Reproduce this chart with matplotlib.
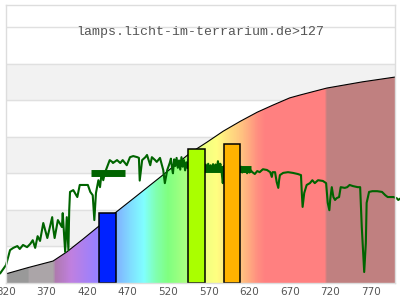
import numpy as np
import matplotlib
matplotlib.use("Agg")
import matplotlib.pyplot as plt
from matplotlib.colors import LinearSegmentedColormap

# sensitivity curve (black line, filled with spectrum colours below)
curve_nm = [320, 347, 378, 395, 415, 436, 456, 480, 514, 547, 568, 588,
            609, 630, 649, 670, 683, 716, 760, 800]
curve_val = [0.25, 0.42, 0.60, 0.85, 1.20, 1.58, 1.94, 2.36, 2.96, 3.55, 3.85,
             4.15, 4.42, 4.67, 4.86, 5.06, 5.14, 5.33, 5.50, 5.63]

# measured lamp spectrum (dark green line)
spec_nm = [313, 320, 325, 329, 334, 337, 341, 346, 350, 353, 356, 359, 362,
           366, 371, 377, 378, 380, 384, 389, 390, 393, 395, 397, 398, 399,
           403, 408, 411, 417, 421, 424, 427, 429, 431, 434, 436, 438, 440,
           442, 448, 451, 452, 457, 461, 464, 469, 473, 477, 482, 484, 485,
           488, 492, 494, 498, 500, 504, 506, 510, 514, 516, 519,
           522, 523.5, 525, 526, 527.5, 529, 530.5, 532, 533.5, 535, 536.5,
           538, 539.5, 541, 542.5, 544, 545.5, 547, 548.5, 550, 551.5, 553,
           554.5, 556, 557.5, 559, 560.5, 562, 563.5, 565, 566.5, 568, 569.5,
           571, 572.5, 574, 575.5, 577, 578.5, 580, 581.5, 583, 584.5, 586,
           587.5, 589, 590.5, 592, 593.5, 595, 596.5, 598, 599.5, 601, 602.5,
           604, 605.5, 607, 608.5, 610, 611.5, 613, 614.5, 616, 617.5, 619,
           620.5, 622,
           624, 627, 630, 633, 637, 642, 646, 648, 649, 652, 654, 656, 657,
           658, 662, 668, 674, 680, 684, 685, 686, 688, 691, 695, 698, 701,
           705, 711, 715, 717, 719, 720, 722, 724, 726, 728, 731, 733, 738,
           741, 744, 748, 754, 757, 759, 761, 762, 764, 765, 768, 772, 778,
           784, 788, 791, 798, 802, 804, 806]
spec_val = [0.27, 0.49, 0.90, 0.96, 1.01, 0.93, 1.04, 0.98, 1.07, 1.17, 0.96,
            1.28, 1.15, 1.64, 1.23, 1.80, 1.53, 1.23, 1.72, 1.53, 1.91, 0.85,
            1.80, 0.90, 1.99, 2.49, 2.54, 2.35, 2.68, 2.68, 2.68, 2.49, 2.40,
            1.72, 2.46, 2.81, 2.62, 3.01, 2.81, 3.01, 3.36, 3.31, 3.28, 3.36,
            3.28, 3.36, 3.22, 3.44, 3.47, 3.44, 3.42, 2.80, 3.36, 3.44, 3.50,
            3.22, 3.44, 3.36, 3.31, 3.42, 3.09, 2.73, 3.09,
            3.28, 3.40, 3.12, 3.00, 3.38, 3.20, 3.42, 3.15, 3.35, 3.10, 3.44,
            3.18, 3.36, 3.08, 3.30, 3.14, 3.38, 3.12, 3.32, 3.10, 3.30, 3.15,
            3.34, 3.12, 3.28, 3.10, 3.30, 3.14, 3.26, 3.08, 3.24, 3.06, 3.26,
            3.10, 3.22, 3.05, 3.25, 3.10, 3.24, 3.08, 3.33, 3.12, 3.26, 3.05,
            2.73, 3.20, 3.06, 3.22, 3.08, 3.20, 3.04, 3.18, 3.06, 3.20, 3.04,
            3.18, 3.02, 3.16, 3.05, 3.18, 3.02, 3.16, 3.04, 3.14, 3.00, 3.12,
            3.02, 3.08,
            3.03, 2.98, 3.06, 3.03, 3.11, 3.09, 3.03, 2.90, 3.03, 3.03, 2.76,
            2.60, 2.81, 2.95, 3.01, 3.03, 3.01, 2.98, 2.95, 2.46, 2.08, 2.46,
            2.68, 2.73, 2.81, 2.73, 2.81, 2.79, 2.73, 2.19, 1.99, 2.27, 2.62,
            2.35, 2.27, 2.32, 2.35, 2.62, 2.60, 2.62, 2.68, 2.65, 2.62, 2.62,
            1.53, 0.71, 0.30, 1.09, 2.19, 2.49, 2.51, 2.51, 2.49, 2.40, 2.35,
            2.35, 2.32, 2.27, 2.30]

# averaged level markers (thick dark green bars)
mark_start = [425, 550]
mark_end = [467, 622]
mark_val = [3.02, 3.11]

# coloured bars
bar_left = [435, 545, 589]
bar_width = [21, 20, 20]
bar_height = [1.92, 3.65, 3.79]
bar_colors = ["#0022ff", "#aaff00", "#ffb300"]

# spectrum colours along the wavelength axis
grad_nm = [320, 347, 347.5, 378, 381, 400, 430, 456, 475, 490, 505, 520,
           545, 565, 580, 595, 612, 630, 640, 714, 716, 800]
grad_col = ["#999999", "#999999", "#aba5a8", "#aba5a8", "#b07ab0", "#c080e0",
            "#9a80ff", "#80b0ff", "#80e0ff", "#80ffff", "#80ffb0", "#80ff80",
            "#b0ff80", "#f0ff80", "#ffff80", "#ffe080", "#ffc080", "#ff9080",
            "#ff8080", "#ff8080", "#c08080", "#c08080"]

xticks = [320, 370, 420, 470, 520, 570, 620, 670, 720, 770]

fig = plt.figure(figsize=(4, 3), dpi=100)
ax = fig.add_axes([6 / 400, 17 / 300, 389 / 400, 278 / 300])
ax.set_xlim(320, 800)
ax.set_ylim(0, 7.6)

# alternating background bands and grid
for lo in [1, 3, 5]:
    ax.axhspan(lo, lo + 1, color="#f2f2f2", zorder=0)
for g in range(1, 8):
    ax.axhline(g, color="#e0e0e0", lw=1, zorder=1)

# gradient fill under the curve
lo_nm, hi_nm = grad_nm[0], grad_nm[-1]
pos = [(v - lo_nm) / (hi_nm - lo_nm) for v in grad_nm]
cmap = LinearSegmentedColormap.from_list("spec", list(zip(pos, grad_col)), N=1024)
img = ax.imshow(np.linspace(0, 1, 1000)[None, :], cmap=cmap, aspect="auto",
                extent=[320, 800, 0, 7.6], interpolation="nearest", zorder=2)
poly = ax.fill_between(curve_nm, 0, curve_val, facecolor="none",
                       edgecolor="none", zorder=2)
img.set_clip_path(poly.get_paths()[0], ax.transData)
ax.plot(curve_nm, curve_val, color="black", lw=0.8, zorder=3)

# lamp spectrum and level markers
ax.plot(spec_nm, spec_val, color="#006400", lw=1.5, zorder=4, clip_on=False)
ax.hlines(mark_val, mark_start, mark_end, color="#006400", lw=5, zorder=4)

ax.bar(bar_left, bar_height, width=bar_width, align="edge", color=bar_colors,
       edgecolor="black", linewidth=1.1, zorder=5)

ax.text(0.5, 0.903, "lamps.licht-im-terrarium.de>127", transform=ax.transAxes,
        ha="center", va="center", family="Liberation Mono", fontsize=9.5,
        color="#555555", zorder=6)

ax.set_xticks(xticks)
ax.set_yticks([])
ax.tick_params(axis="x", length=0, pad=3, labelsize=7.5, labelcolor="#555555")
for s in ax.spines.values():
    s.set_color("#dddddd")
    s.set_linewidth(1)
    s.set_zorder(7)

fig.savefig("out.png", dpi=100)
